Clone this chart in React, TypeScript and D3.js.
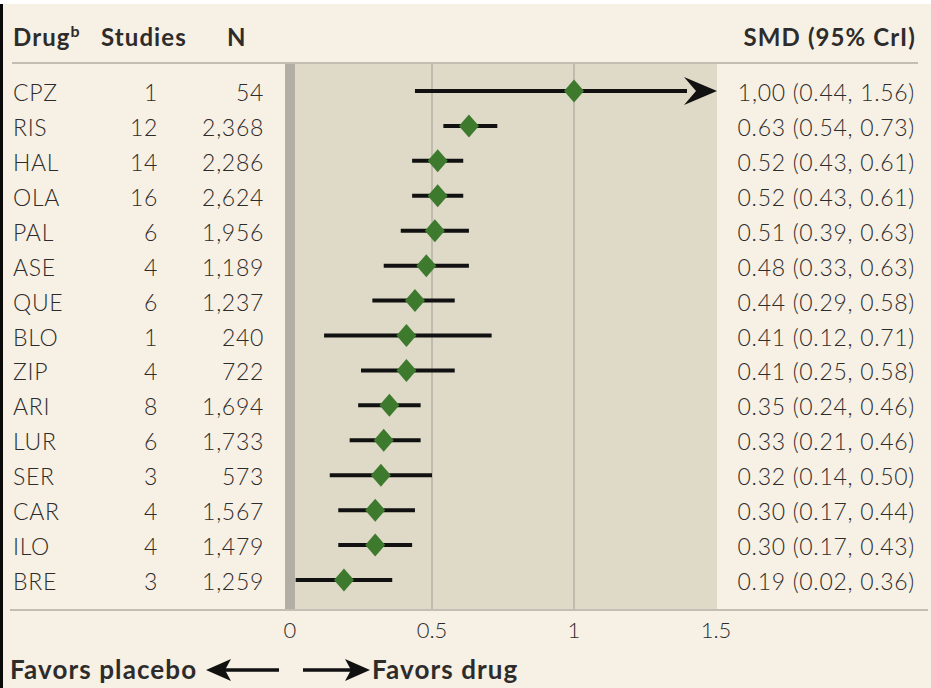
import React from "react";
import * as d3 from "d3";

const drugs = ["CPZ","RIS","HAL","OLA","PAL","ASE","QUE","BLO","ZIP","ARI","LUR","SER","CAR","ILO","BRE"];
const studies = [1,12,14,16,6,4,6,1,4,8,6,3,4,4,3];
const nValues = ["54","2,368","2,286","2,624","1,956","1,189","1,237","240","722","1,694","1,733","573","1,567","1,479","1,259"];
const smd = [1.00,0.63,0.52,0.52,0.51,0.48,0.44,0.41,0.41,0.35,0.33,0.32,0.30,0.30,0.19];
const lower = [0.44,0.54,0.43,0.43,0.39,0.33,0.29,0.12,0.25,0.24,0.21,0.14,0.17,0.17,0.02];
const upper = [1.56,0.73,0.61,0.61,0.63,0.63,0.58,0.71,0.58,0.46,0.46,0.50,0.44,0.43,0.36];
const smdLabels = ["1,00 (0.44, 1.56)","0.63 (0.54, 0.73)","0.52 (0.43, 0.61)","0.52 (0.43, 0.61)","0.51 (0.39, 0.63)","0.48 (0.33, 0.63)","0.44 (0.29, 0.58)","0.41 (0.12, 0.71)","0.41 (0.25, 0.58)","0.35 (0.24, 0.46)","0.33 (0.21, 0.46)","0.32 (0.14, 0.50)","0.30 (0.17, 0.44)","0.30 (0.17, 0.43)","0.19 (0.02, 0.36)"];
const ticks = [0, 0.5, 1, 1.5];
const tickLabels = ["0","0.5","1","1.5"];

const W = 931, H = 688;
const BG = "#F7F0E4";
const PANEL = "#DEDAC7";
const TEXT = "#2E2C2B";
const GREEN = "#3E7A2E";
const FONT = "Lato, 'Open Sans', sans-serif";

export default function App() {
  const x = d3.scaleLinear().domain([0, 1.5]).range([290, 716]);
  const y = d3.scaleLinear().domain([0, 14]).range([101, 590]);
  const panelTop = 64, panelBottom = 610;
  const rowFont = 23;
  const rowLS = 0.7;
  return (
    <svg width={W} height={H} style={{ position: "absolute", left: 0, top: 0, display: "block" }} fontFamily={FONT}>
      <rect x={0} y={0} width={W} height={H} fill={BG} />
      <rect x={0} y={0} width={W} height={4} fill="#FFFFFF" />
      <rect x={0} y={4} width={3} height={H - 4} fill="#0A0A0A" />
      {/* panel */}
      <rect x={x(0)} y={panelTop} width={x(1.5) - x(0) + 1} height={panelBottom - panelTop} fill={PANEL} />
      <rect x={x(0) - 5} y={panelTop} width={10} height={panelBottom - panelTop} fill="#B2AEA6" />
      {ticks.slice(1, 3).map((t) => (
        <line key={t} x1={x(t)} x2={x(t)} y1={panelTop} y2={panelBottom} stroke="#B5B1A6" strokeWidth={1.5} />
      ))}
      {/* header */}
      <g fill={TEXT} fontWeight={700} fontSize={24} letterSpacing={1.1}>
        <text x={13} y={46}>Drug<tspan fontSize={16} dy={-9} letterSpacing={0}>b</tspan></text>
        <text x={101} y={46}>Studies</text>
        <text x={227} y={46}>N</text>
        <text x={916} y={46} textAnchor="end">SMD (95% CrI)</text>
      </g>
      <line x1={12} x2={918} y1={63} y2={63} stroke="#C3BEB4" strokeWidth={2} />
      <line x1={10} x2={928} y1={610} y2={610} stroke="#C3BEB4" strokeWidth={2} />
      {/* rows */}
      {drugs.map((d, i) => {
        const by = y(i);
        const cy = by - 10;
        const x1 = x(Math.max(0, lower[i]));
        const over = upper[i] > 1.5;
        const x2 = over ? x(1.5) + 1 - 30 : x(upper[i]);
        const cx = x(smd[i]);
        return (
          <g key={d}>
            <g fontSize={rowFont} fill={TEXT} fontWeight={300} letterSpacing={rowLS}>
              <text x={13} y={by}>{d}</text>
              <text x={158} y={by} textAnchor="end">{studies[i]}</text>
              <text x={264} y={by} textAnchor="end">{nValues[i]}</text>
              <text x={915} y={by} textAnchor="end">{smdLabels[i]}</text>
            </g>
            <line x1={x1} x2={x2} y1={cy} y2={cy} stroke="#111" strokeWidth={4} />
            {over && (
              <path d={`M${x(1.5) + 1},${cy} L${x(1.5) - 32},${cy - 14} L${x(1.5) - 20},${cy} L${x(1.5) - 32},${cy + 14} Z`} fill="#111" />
            )}
            <path d={`M${cx},${cy - 11.5} L${cx + 10},${cy} L${cx},${cy + 11.5} L${cx - 10},${cy} Z`} fill={GREEN} />
          </g>
        );
      })}
      {/* axis labels */}
      {ticks.map((t, i) => (
        <text key={t} x={x(t)} y={638} fontSize={22} fontWeight={300} fill={TEXT} textAnchor="middle">{tickLabels[i]}</text>
      ))}
      {/* favors */}
      <g fill={TEXT} fontWeight={700} fontSize={26} letterSpacing={1.1}>
        <text x={10} y={679}>Favors placebo</text>
        <text x={372} y={679}>Favors drug</text>
      </g>
      <line x1={222} x2={279} y1={670} y2={670} stroke="#111" strokeWidth={3.5} />
      <path d="M206,670 L231,659 L225,670 L231,681 Z" fill="#111" />
      <line x1={303} x2={354} y1={670} y2={670} stroke="#111" strokeWidth={3.5} />
      <path d="M370,670 L345,659 L351,670 L345,681 Z" fill="#111" />
    </svg>
  );
}
